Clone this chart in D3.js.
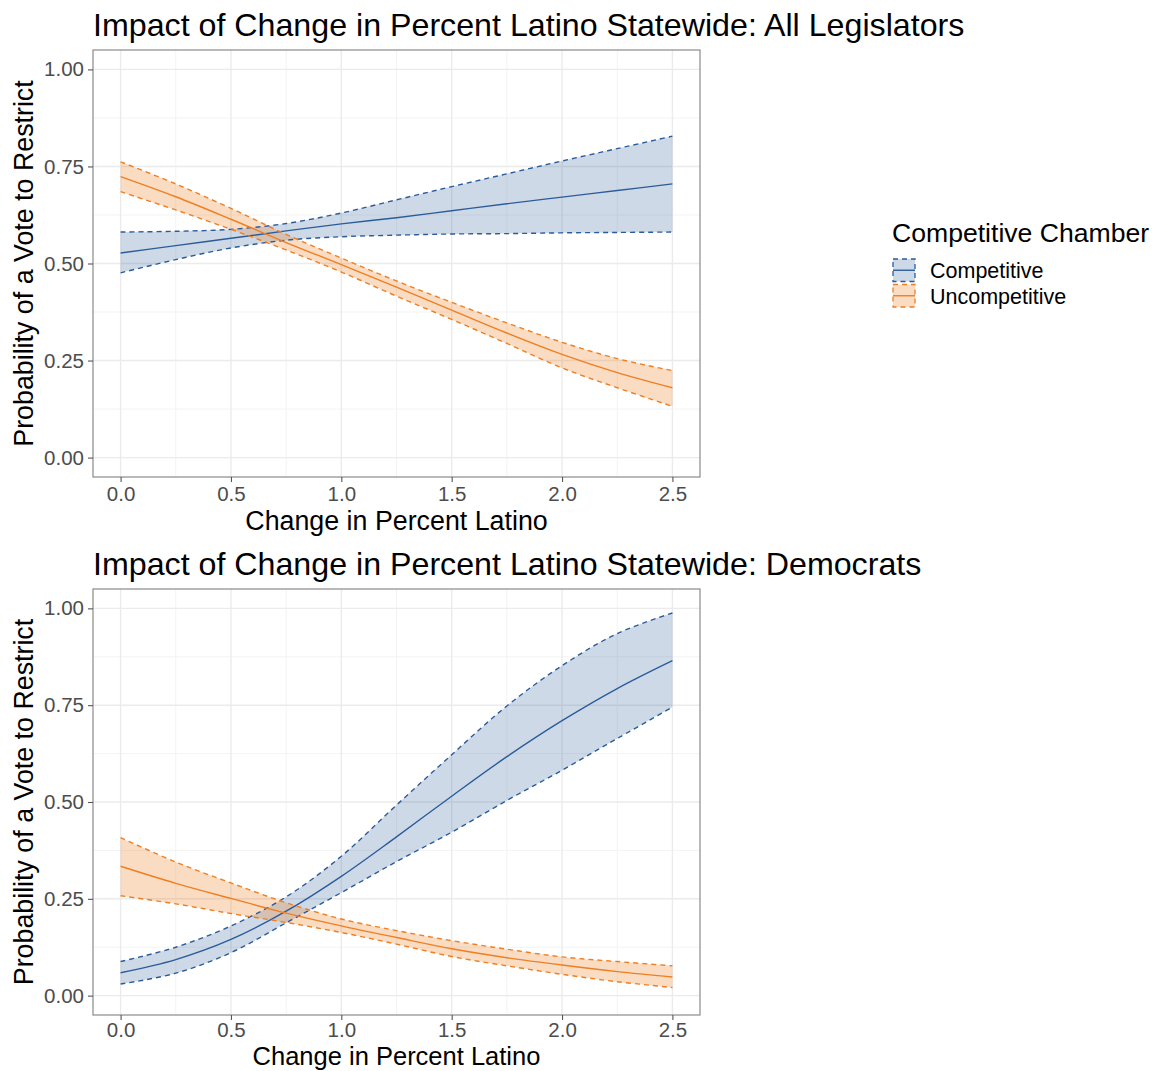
<!DOCTYPE html>
<html>
<head>
<meta charset="utf-8">
<script src="https://cdn.jsdelivr.net/npm/d3@7"></script>
<style>
  html, body { margin: 0; padding: 0; background: #fff; }
  svg text { font-family: "Liberation Sans", Arial, sans-serif; }
</style>
</head>
<body>
<svg id="chart" width="1156" height="1071"></svg>
<script>
// ---------- data ----------
const changeLatino = [0, 0.25, 0.5, 0.75, 1.0, 1.25, 1.5, 1.75, 2.0, 2.25, 2.5];
const xTicks = [0.0, 0.5, 1.0, 1.5, 2.0, 2.5];
const yTicks = [0.00, 0.25, 0.50, 0.75, 1.00];
const groups = ["Competitive", "Uncompetitive"];

// Panel 1: All Legislators
const allCompMean = [0.527, 0.546, 0.565, 0.584, 0.602, 0.618, 0.636, 0.654, 0.671, 0.688, 0.705];
const allCompLow  = [0.476, 0.510, 0.540, 0.560, 0.569, 0.573, 0.576, 0.577, 0.579, 0.580, 0.581];
const allCompHigh = [0.581, 0.583, 0.588, 0.603, 0.630, 0.664, 0.698, 0.731, 0.764, 0.796, 0.828];
const allUncMean  = [0.724, 0.672, 0.614, 0.554, 0.497, 0.439, 0.380, 0.321, 0.266, 0.219, 0.180];
const allUncLow   = [0.685, 0.638, 0.588, 0.535, 0.478, 0.416, 0.356, 0.294, 0.231, 0.180, 0.132];
const allUncHigh  = [0.762, 0.705, 0.642, 0.575, 0.514, 0.455, 0.400, 0.347, 0.297, 0.255, 0.224];

// Panel 2: Democrats
const demCompMean = [0.059, 0.093, 0.145, 0.218, 0.308, 0.410, 0.515, 0.617, 0.710, 0.793, 0.865];
const demCompLow  = [0.030, 0.058, 0.111, 0.188, 0.266, 0.346, 0.422, 0.504, 0.582, 0.664, 0.745];
const demCompHigh = [0.088, 0.125, 0.180, 0.255, 0.360, 0.492, 0.622, 0.748, 0.852, 0.935, 0.988];
const demUncMean  = [0.334, 0.290, 0.251, 0.213, 0.180, 0.150, 0.121, 0.098, 0.079, 0.062, 0.048];
const demUncLow   = [0.258, 0.237, 0.212, 0.189, 0.163, 0.133, 0.101, 0.077, 0.055, 0.036, 0.021];
const demUncHigh  = [0.408, 0.345, 0.291, 0.240, 0.198, 0.168, 0.142, 0.120, 0.100, 0.088, 0.077];

const titles = [
  "Impact of Change in Percent Latino Statewide: All Legislators",
  "Impact of Change in Percent Latino Statewide: Democrats"
];
const xLabel = "Change in Percent Latino";
const yLabel = "Probability of a Vote to Restrict";
const legendTitle = "Competitive Chamber";

// ---------- styling ----------
const colors = { Competitive: "#2B5C9A", Uncompetitive: "#EE7F22" };
const fillOpacity = { Competitive: 0.23, Uncompetitive: 0.27 };

const svg = d3.select("#chart");

const panels = [
  { top: 50, bottom: 477, title: titles[0], titleY: 36, xLabOff: 53, xLabSize: 26.8, tickPad: 4,
    series: [
      { g: "Competitive", mean: allCompMean, low: allCompLow, high: allCompHigh },
      { g: "Uncompetitive", mean: allUncMean, low: allUncLow, high: allUncHigh } ] },
  { top: 589, bottom: 1015, title: titles[1], titleY: 575, xLabOff: 50, xLabSize: 25.5, tickPad: 2,
    series: [
      { g: "Competitive", mean: demCompMean, low: demCompLow, high: demCompHigh },
      { g: "Uncompetitive", mean: demUncMean, low: demUncLow, high: demUncHigh } ] }
];

const left = 93, right = 700;

panels.forEach(p => {
  const x = d3.scaleLinear().domain([-0.125, 2.625]).range([left, right]);
  const y = d3.scaleLinear().domain([-0.05, 1.05]).range([p.bottom, p.top]);
  const gp = svg.append("g");

  // grid
  const minorX = d3.range(-0.25, 2.76, 0.5).filter(v => v > -0.125 && v < 2.625);
  const minorY = d3.range(0.125, 1.0, 0.25);
  gp.selectAll(".gmx").data(minorX).enter().append("line")
    .attr("x1", d => x(d)).attr("x2", d => x(d)).attr("y1", p.top).attr("y2", p.bottom)
    .attr("stroke", "#f3f3f3").attr("stroke-width", 1);
  gp.selectAll(".gmy").data(minorY).enter().append("line")
    .attr("y1", d => y(d)).attr("y2", d => y(d)).attr("x1", left).attr("x2", right)
    .attr("stroke", "#f3f3f3").attr("stroke-width", 1);
  gp.selectAll(".gx").data(xTicks).enter().append("line")
    .attr("x1", d => x(d)).attr("x2", d => x(d)).attr("y1", p.top).attr("y2", p.bottom)
    .attr("stroke", "#ebebeb").attr("stroke-width", 1.4);
  gp.selectAll(".gy").data(yTicks).enter().append("line")
    .attr("y1", d => y(d)).attr("y2", d => y(d)).attr("x1", left).attr("x2", right)
    .attr("stroke", "#ebebeb").attr("stroke-width", 1.4);

  const area = d3.area().x((d, i) => x(changeLatino[i])).curve(d3.curveCatmullRom);
  const line = d3.line().x((d, i) => x(changeLatino[i])).curve(d3.curveCatmullRom);

  p.series.forEach(s => {
    gp.append("path")
      .datum(s.mean)
      .attr("d", area.y0((d, i) => y(s.low[i])).y1((d, i) => y(s.high[i])))
      .attr("fill", colors[s.g]).attr("fill-opacity", fillOpacity[s.g]);
  });
  p.series.forEach(s => {
    [s.low, s.high].forEach(arr => {
      gp.append("path").datum(arr)
        .attr("d", line.y(d => y(d)))
        .attr("fill", "none").attr("stroke", colors[s.g])
        .attr("stroke-width", 1.4).attr("stroke-dasharray", "5,4");
    });
    gp.append("path").datum(s.mean)
      .attr("d", line.y(d => y(d)))
      .attr("fill", "none").attr("stroke", colors[s.g]).attr("stroke-width", 1.4);
  });

  // border
  gp.append("rect").attr("x", left).attr("y", p.top)
    .attr("width", right - left).attr("height", p.bottom - p.top)
    .attr("fill", "none").attr("stroke", "#8a8a8a").attr("stroke-width", 1.2);

  // axes
  const xa = gp.append("g").attr("transform", `translate(0,${p.bottom})`)
    .call(d3.axisBottom(x).tickValues(xTicks).tickFormat(d3.format(".1f")).tickSize(5).tickPadding(p.tickPad));
  const ya = gp.append("g").attr("transform", `translate(${left},0)`)
    .call(d3.axisLeft(y).tickValues(yTicks).tickFormat(d3.format(".2f")).tickSize(5).tickPadding(4));
  [xa, ya].forEach(a => {
    a.select(".domain").remove();
    a.selectAll("line").attr("stroke", "#555").attr("stroke-width", 1.1);
    a.selectAll("text").attr("fill", "#4d4d4d").style("font-size", "20.5px")
      .style("font-family", "'Liberation Sans', Arial, sans-serif");
  });

  // labels
  gp.append("text").attr("x", left).attr("y", p.titleY)
    .style("font-size", "32.2px").attr("fill", "#000").text(p.title);
  gp.append("text").attr("x", (left + right) / 2).attr("y", p.bottom + p.xLabOff)
    .attr("text-anchor", "middle").style("font-size", p.xLabSize + "px").attr("fill", "#000").text(xLabel);
  gp.append("text")
    .attr("transform", `translate(33,${(p.top + p.bottom) / 2}) rotate(-90)`)
    .attr("text-anchor", "middle").style("font-size", "26.8px").attr("fill", "#000").text(yLabel);
});

// legend
const lg = svg.append("g");
lg.append("text").attr("x", 892).attr("y", 242).style("font-size", "26.6px").attr("fill", "#000").text(legendTitle);
groups.forEach((g, i) => {
  const ky = 259 + i * 25.5;
  lg.append("rect").attr("x", 893).attr("y", ky).attr("width", 22).attr("height", 22.5)
    .attr("fill", colors[g]).attr("fill-opacity", fillOpacity[g])
    .attr("stroke", colors[g]).attr("stroke-width", 1.3).attr("stroke-dasharray", "5,4");
  lg.append("line").attr("x1", 893).attr("x2", 915).attr("y1", ky + 11.25).attr("y2", ky + 11.25)
    .attr("stroke", colors[g]).attr("stroke-width", 1.4);
  lg.append("text").attr("x", 930).attr("y", ky + 19).style("font-size", "21.5px").attr("fill", "#000").text(g);
});
</script>
</body>
</html>
